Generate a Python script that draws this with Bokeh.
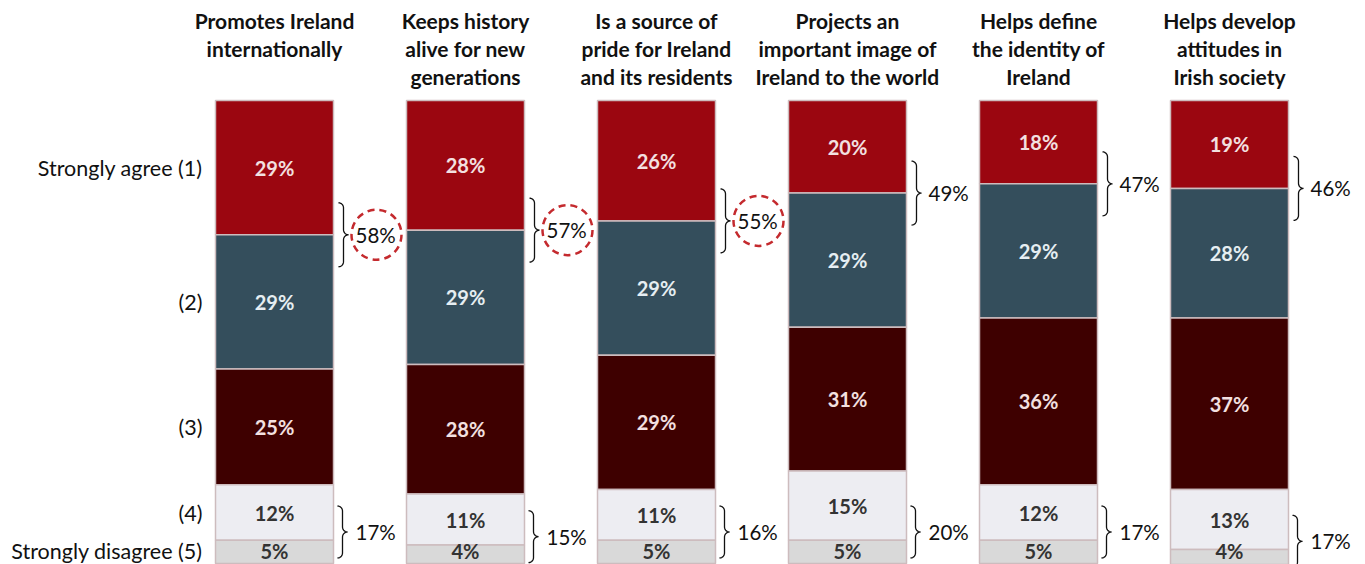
import numpy as np
from bokeh.plotting import figure
from bokeh.models import Range1d, ColumnDataSource
from bokeh.core.properties import value
from bokeh.embed import file_html
from bokeh.resources import INLINE

# ---- data ----
titles = [
    "Promotes Ireland\ninternationally",
    "Keeps history\nalive for new\ngenerations",
    "Is a source of\npride for Ireland\nand its residents",
    "Projects an\nimportant image of\nIreland to the world",
    "Helps define\nthe identity of\nIreland",
    "Helps develop\nattitudes in\nIrish society",
]
row_labels = ["Strongly agree (1)", "(2)", "(3)", "(4)", "Strongly disagree (5)"]
s1 = [29, 28, 26, 20, 18, 19]
s2 = [29, 29, 29, 29, 29, 28]
s3 = [25, 28, 29, 31, 36, 37]
s4 = [12, 11, 11, 15, 12, 13]
s5 = [5, 4, 5, 5, 5, 4]
top_sum = [58, 57, 55, 49, 47, 46]
bottom_sum = [17, 15, 16, 20, 17, 17]
highlight = [True, True, True, False, False, False]

# ---- styles ----
colors = ["#9b0610", "#344e5c", "#3e0000", "#ededf2", "#d9d9d9"]
label_colors = ["#f3e0e0", "#e6eef2", "#f3e0e0", "#333333", "#333333"]
FONT = "Lato"
PX_X = 191.0   # pixels per bar index
PX_Y = 4.63    # pixels per percent
BAR_W = 118 / PX_X
W, H = 1365, 564
ORG_X, ORG_Y = 0, 0

x_start = (ORG_X - 274) / PX_X
p = figure(width=W, height=H, output_backend="svg", toolbar_location=None,
           x_range=Range1d(x_start, x_start + W / PX_X),
           y_range=Range1d((ORG_Y + H - 100) / PX_Y, (ORG_Y - 100) / PX_Y),
           min_border=0, outline_line_color=None)
p.axis.visible = False
p.grid.visible = False
p.background_fill_color = "white"
p.border_fill_color = "white"

series = [s1, s2, s3, s4, s5]
n = len(titles)
xs = list(range(n))
cum = np.zeros(n)
centers = []
bounds = []
for k, s in enumerate(series):
    s = np.array(s, dtype=float)
    top = cum.copy()
    bot = cum + s
    mid = (top + bot) / 2
    if k == 4:
        mid = np.minimum(mid, 97.3)
    src = ColumnDataSource(dict(x=xs, top=top, bottom=bot, mid=mid,
                                lab=[f"{v:.0f}%" for v in s]))
    p.vbar(x="x", top="top", bottom="bottom", width=BAR_W, source=src,
           fill_color=colors[k], line_color="#cdbcbe", line_width=1.5)
    p.text(x="x", y="mid", text="lab", source=src, text_align="center",
           text_baseline="middle", text_font=value(FONT), text_font_size="20px",
           text_font_style="bold", text_color=label_colors[k])
    centers.append(mid)
    cum = bot
    bounds.append(bot.copy())

# titles
p.text(x=xs, y=[-(100 - 7.5) / PX_Y] * n, text=titles, text_align="center",
       text_baseline="top", text_font=value(FONT), text_font_size="21px",
       text_font_style="bold", text_color="#111111", text_line_height=1.11)

# row labels next to first bar
lx = -BAR_W / 2 - 13 / PX_X
p.text(x=[lx] * 5, y=[float(c[0]) for c in centers], text=row_labels,
       text_align="right", text_baseline="middle", text_font=value(FONT),
       text_font_size="21.5px", text_color="#111111")


def brace(xb, yc, half):
    """curly brace: xb is left x (data), yc center (data), half in px"""
    r = 5.0
    pts = []
    for a in np.linspace(-np.pi / 2, 0, 8):
        pts.append((r * np.cos(a), -half + r + r * np.sin(a)))
    for a in np.linspace(np.pi, np.pi / 2, 8):
        pts.append((2 * r + r * np.cos(a), -r + r * np.sin(a)))
    for a in np.linspace(-np.pi / 2, -np.pi, 8):
        pts.append((2 * r + r * np.cos(a), r + r * np.sin(a)))
    for a in np.linspace(0, np.pi / 2, 8):
        pts.append((r * np.cos(a), half - r + r * np.sin(a)))
    bx = [xb + px / PX_X for px, _ in pts]
    by = [yc + py / PX_Y for _, py in pts]
    return bx, by


top_c = bounds[0]
bot_c = bounds[3] - 1.8
mx, my = [], []
for i in range(n):
    xr = i + BAR_W / 2
    bx, by = brace(xr + 5 / PX_X, top_c[i], 32)
    mx.append(bx); my.append(by)
    bx, by = brace(xr + 4 / PX_X, bot_c[i], 26)
    mx.append(bx); my.append(by)
p.multi_line(xs=mx, ys=my, line_color="#111111", line_width=1.3)

tx = [i + BAR_W / 2 + 22 / PX_X for i in range(n)]
p.text(x=tx, y=list(top_c), text=[f"{v}%" for v in top_sum], text_align="left",
       text_baseline="middle", text_font=value(FONT), text_font_size="20.5px",
       text_color="#111111")
p.text(x=tx, y=list(bot_c), text=[f"{v}%" for v in bottom_sum], text_align="left",
       text_baseline="middle", text_font=value(FONT), text_font_size="20.5px",
       text_color="#111111")

hx = [tx[i] + 21 / PX_X for i in range(n) if highlight[i]]
hy = [float(top_c[i]) for i in range(n) if highlight[i]]
p.scatter(x=hx, y=hy, marker="circle", size=50, fill_alpha=0,
          line_color="#c42a2e", line_width=2.5, line_dash="7 5")

open("out.html", "w").write(file_html(p, INLINE))
